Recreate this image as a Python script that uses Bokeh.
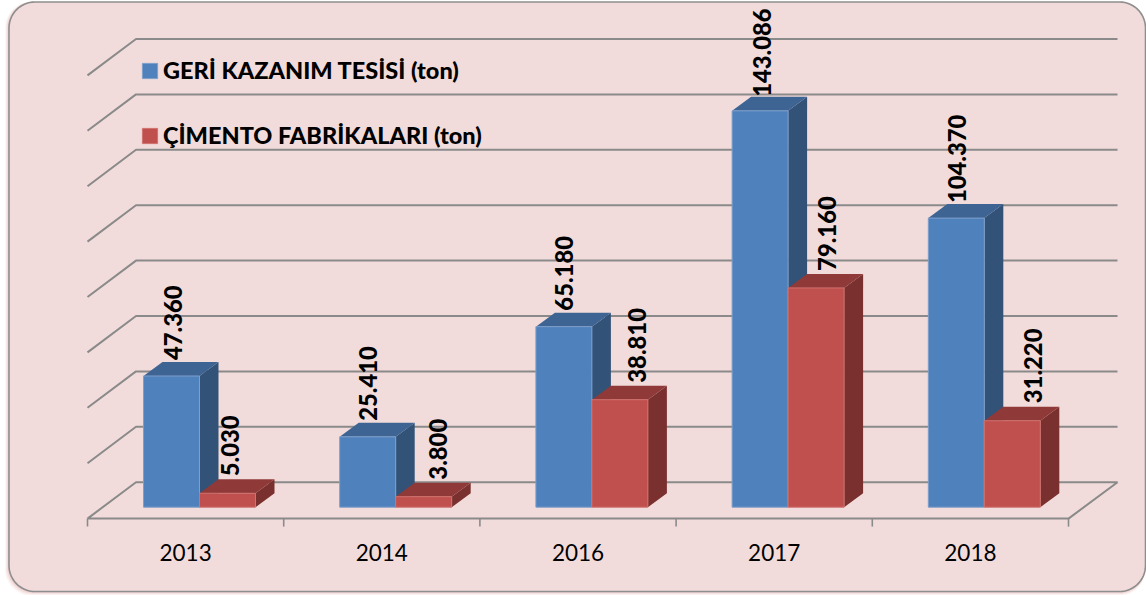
import numpy as np
from bokeh.plotting import figure
from bokeh.models import Legend, LegendItem
from bokeh.core.properties import value
from bokeh.embed import file_html
from bokeh.resources import INLINE

years = ["2013", "2014", "2016", "2017", "2018"]
geri = [47360, 25410, 65180, 143086, 104370]
cimento = [5030, 3800, 38810, 79160, 31220]
grid_values = [0, 20000, 40000, 60000, 80000, 100000, 120000, 140000, 160000]
name_a = "GERİ KAZANIM TESİSİ (ton)"
name_b = "ÇİMENTO FABRİKALARI (ton)"

W, H = 1146, 595
PX_X = 196.2          # pixels per category
PX_Y = 55.4 / 20000   # pixels per ton
X0, Y0 = 87.0, 506.7  # pixel of category 0 edge / of value 0 at the bar foot

# hand-placed label offsets of the original, in pixels
geri_nudge_x = [1, 0, 0, 1, 0]
geri_gap = [2, 2, 2, 0, 1]
cimento_nudge_x = [2, 14, 17, 10.7, 20]
cimento_gap = [3, 3, 3, 3, 3.5]


def X(px):
    return (np.asarray(px, dtype=float) - X0) / PX_X


def Y(py):
    return (Y0 - np.asarray(py, dtype=float)) / PX_Y


def dx(px):
    return px / PX_X


def dy(px):
    return px / PX_Y


p = figure(width=W, height=H, output_backend="svg", toolbar_location=None,
           x_range=(float(X(0)), float(X(W))), y_range=(float(Y(H)), float(Y(0))),
           min_border=0, outline_line_color=None, tools="")
p.axis.visible = False
p.grid.visible = False
p.background_fill_color = "white"
p.border_fill_color = "white"
p.styles = {"position": "absolute", "left": "0", "top": "0"}


def rounded(x0, y0, x1, y1, r):
    xs, ys = [], []
    for cx, cy, a0 in [(x0 + r, y0 + r, 180), (x1 - r, y0 + r, 270),
                       (x1 - r, y1 - r, 0), (x0 + r, y1 - r, 90)]:
        t = np.radians(np.linspace(a0, a0 + 90, 16))
        xs += list(cx + r * np.cos(t))
        ys += list(cy + r * np.sin(t))
    return X(xs), Y(ys)


# panel with its soft shadow
for off, alpha in [(4, 0.05), (3, 0.07), (2, 0.09), (1, 0.11)]:
    sx, sy = rounded(8.5 - off, 1.5, 1145, 591 + off, 26)
    p.patch(sx, sy, fill_color="#c0504d", fill_alpha=alpha, line_color=None)
px_, py_ = rounded(8.5, 1.5, 1145, 591, 26)
p.patch(px_, py_, fill_color="#F2DCDB", line_color="#8E8E8E", line_width=1.6)

# walls: each gridline runs along the left wall, then along the back wall
GRID = "#8A8A8A"
front_off, back_off = dy(-11.4), dy(25.0)
wall_x = dx(48.5)
right_end = len(years) + dx(49)
gx, gy = [], []
for v in grid_values:
    if v == 0:
        gx.append([0, wall_x, right_end, len(years), 0])
        gy.append([v + front_off, v + back_off, v + back_off, v + front_off, v + front_off])
    else:
        gx.append([0, wall_x, right_end])
        gy.append([v + front_off, v + back_off, v + back_off])
p.multi_line(gx, gy, line_color=GRID, line_width=2)
tick_len = dy(8)
p.multi_line([[i, i] for i in range(len(years) + 1)],
             [[front_off, front_off - tick_len] for _ in range(len(years) + 1)],
             line_color=GRID, line_width=1.6)

# category labels
p.text([i + 0.5 for i in range(len(years))], [front_off - dy(34)] * len(years), text=years,
       text_align="center", text_baseline="middle", text_font=value("Lato"),
       text_font_size="22.5px", text_color="black")

# bars
BW = 56 / PX_X
GAP = 56 / PX_X
DX, DY = dx(19), dy(14)
fmt = lambda v: f"{v:,}".replace(",", ".")


def bars(values, start, front, top, side, edge):
    left = [i + start for i in range(len(values))]
    right = [l + BW for l in left]
    p.patches([[r, r + DX, r + DX, r] for r in right],
              [[0, DY, v + DY, v] for v in values], fill_color=side, line_color=None)
    p.patches([[l, l + DX, r + DX, r] for l, r in zip(left, right)],
              [[v, v + DY, v + DY, v] for v in values], fill_color=top, line_color=None)
    return p.quad(left=left, right=right, bottom=[0] * len(values), top=values,
                  fill_color=front, line_color=edge, line_width=1)


def labels(values, start, nudge, gap):
    p.text([i + start + BW / 2 + dx(0.5 + n) for i, n in enumerate(nudge)],
           [v + DY + dy(g) for v, g in zip(values, gap)], text=[fmt(v) for v in values],
           angle=np.pi / 2, text_align="left", text_baseline="middle",
           text_font=value("Lato Black"), text_font_size="23.8px", text_color="black")


labels(geri, GAP, geri_nudge_x, geri_gap)
labels(cimento, GAP + BW, cimento_nudge_x, cimento_gap)
r_a = bars(geri, GAP, "#4F81BD", "#3E6494", "#325278", "#7E9FCB")
r_b = bars(cimento, GAP + BW, "#C0504D", "#8F3A38", "#7A302E", "#D0726F")

legend = Legend(items=[LegendItem(label=name_a, renderers=[r_a]),
                       LegendItem(label=name_b, renderers=[r_b])],
                location=(140, H - 149), orientation="vertical",
                background_fill_alpha=0, border_line_color=None, padding=0, margin=0,
                glyph_width=19, glyph_height=19, spacing=37, label_standoff=4,
                label_text_font="Lato Black",
                label_text_font_size="23.5px", label_text_color="black",
                label_height=18)
p.add_layout(legend, "center")

open("out.html", "w").write(file_html(p, INLINE))
